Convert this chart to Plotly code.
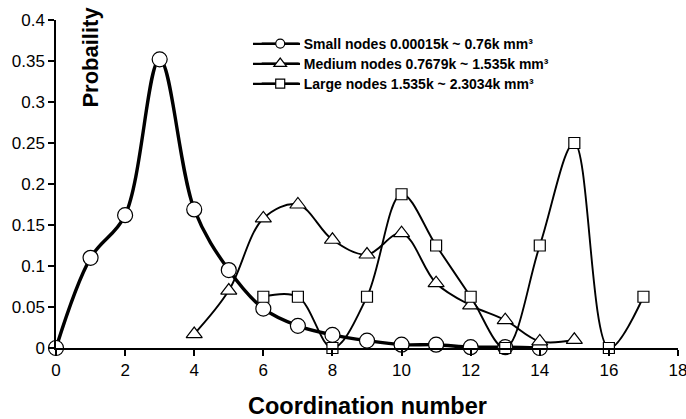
import plotly.graph_objects as go

# Coordination number distributions by node size class
small_x = [0, 1, 2, 3, 4, 5, 6, 7, 8, 9, 10, 11, 12, 13, 14]
small_y = [0.0, 0.110, 0.162, 0.352, 0.169, 0.095, 0.048, 0.027, 0.016,
           0.009, 0.004, 0.004, 0.001, 0.001, 0.0]

medium_x = [4, 5, 6, 7, 8, 9, 10, 11, 12, 13, 14, 15]
medium_y = [0.017, 0.070, 0.158, 0.175, 0.132, 0.114, 0.140, 0.079, 0.052,
            0.034, 0.008, 0.010]

large_x = [6, 7, 8, 9, 10, 11, 12, 13, 14, 15, 16, 17]
large_y = [0.0625, 0.0625, 0.0, 0.0625, 0.1875, 0.125, 0.0625, 0.0, 0.125,
           0.25, 0.0, 0.0625]

names = [
    "Small nodes 0.00015k ~ 0.76k mm³",
    "Medium nodes 0.7679k ~ 1.535k mm³",
    "Large nodes 1.535k ~ 2.3034k mm³",
]

FONT = "Liberation Sans, Arial, sans-serif"

series = [
    # x, y, symbol, plot marker size, line width, legend marker size
    (small_x, small_y, "circle", 15, 3.4, 9),
    (medium_x, medium_y, "triangle-up", 14, 1.9, 11),
    (large_x, large_y, "square", 11, 1.9, 9),
]

legend_ids = ["legend", "legend2", "legend3"]
legend_rows = [0.927, 0.866, 0.805]   # paper y of each legend row

fig = go.Figure()

for (xs, ys, sym, msize, lw, _), name in zip(series, names):
    fig.add_trace(go.Scatter(
        x=xs, y=ys, name=name, mode="lines+markers", showlegend=False,
        line=dict(color="black", width=lw, shape="spline", smoothing=1),
        marker=dict(symbol=sym, size=msize, color="white",
                    line=dict(color="black", width=1.2)),
        cliponaxis=False,
    ))

# Legend entries with compact symbols, one row per legend
for (_, _, sym, _, _, lsize), name, lid in zip(series, names, legend_ids):
    fig.add_trace(go.Scatter(
        x=[None], y=[None], name=name, mode="lines+markers", legend=lid,
        line=dict(color="black", width=2.2),
        marker=dict(symbol=sym, size=lsize, color="white",
                    line=dict(color="black", width=1.2)),
    ))

legend_style = dict(
    x=0.3227, xanchor="left", yanchor="middle",
    bgcolor="rgba(0,0,0,0)", borderwidth=0,
    font=dict(family=FONT, size=14, color="black", weight="bold"),
    itemwidth=37,
)

# Longer key lines behind the legend symbols
for ry in legend_rows:
    fig.add_shape(type="line", xref="paper", yref="paper",
                  x0=0.3167, x1=0.3923, y0=ry, y1=ry,
                  line=dict(color="black", width=2.2))

fig.add_annotation(
    text="<b>Probaility</b>", textangle=-90, showarrow=False,
    xref="paper", yref="paper", x=0.056, y=1.048,
    xanchor="center", yanchor="top",
    font=dict(family=FONT, size=22, color="black"),
)

fig.add_annotation(
    text="<b>Coordination number</b>", showarrow=False,
    xref="paper", yref="paper", x=0.5, y=-0.178,
    xanchor="center", yanchor="middle",
    font=dict(family=FONT, size=23.5, color="black"),
)

layout_legends = {lid: dict(legend_style, y=ry)
                  for lid, ry in zip(legend_ids, legend_rows)}

fig.update_layout(
    width=686, height=419,
    margin=dict(l=56, r=8, t=20, b=71, autoexpand=False),
    paper_bgcolor="white", plot_bgcolor="white",
    font=dict(family=FONT, size=17, color="black"),
    showlegend=True,
    xaxis=dict(
        range=[0, 18], tickmode="array",
        tickvals=[0, 2, 4, 6, 8, 10, 12, 14, 16, 18],
        ticklabeloverflow="allow",
        showline=True, linecolor="black", linewidth=1.5,
        ticks="outside", ticklen=6, tickwidth=1.5, tickcolor="black",
        showgrid=False, zeroline=False,
    ),
    yaxis=dict(
        range=[0, 0.4], tickmode="linear", tick0=0, dtick=0.05,
        showline=True, linecolor="black", linewidth=1.5,
        ticks="outside", ticklen=6, tickwidth=1.5, tickcolor="black",
        showgrid=False, zeroline=False,
    ),
    **layout_legends,
)

fig.write_html("out.html")
